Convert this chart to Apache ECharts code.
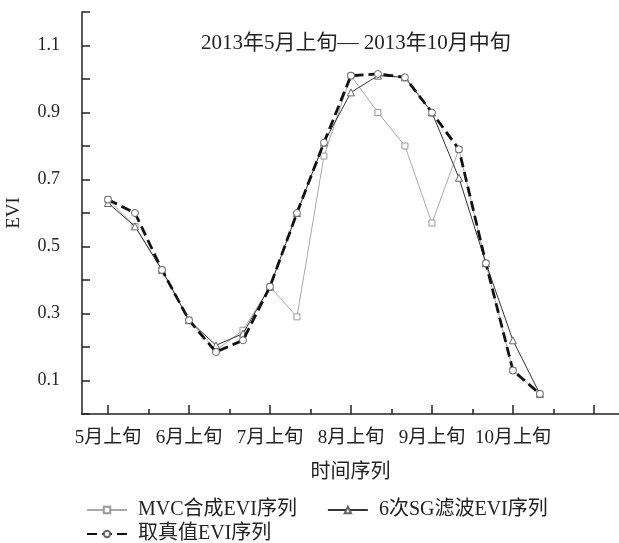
<!DOCTYPE html>
<html>
<head>
<meta charset="utf-8">
<script src="https://cdn.jsdelivr.net/npm/echarts@6/dist/echarts.min.js"></script>
<style>
html,body{margin:0;padding:0;background:#fff;}
#evi{width:619px;height:543px;}
</style>
</head>
<body>
<div id="evi"></div>
<script>
// 时间序列（旬）
var dekads = ['5月上旬','5月中旬','5月下旬','6月上旬','6月中旬','6月下旬','7月上旬','7月中旬','7月下旬',
  '8月上旬','8月中旬','8月下旬','9月上旬','9月中旬','9月下旬','10月上旬','10月中旬'];
var mvcEvi  = [0.64, 0.56, 0.43, 0.28, 0.19, 0.25, 0.38, 0.29, 0.77, 1.01, 0.90, 0.80, 0.57, 0.79, 0.45, 0.13, 0.06];
var sgEvi   = [0.63, 0.56, 0.43, 0.28, 0.205, 0.24, 0.38, 0.60, 0.81, 0.96, 1.01, 1.005, 0.90, 0.705, 0.45, 0.22, 0.06];
var trueEvi = [0.64, 0.60, 0.43, 0.28, 0.185, 0.22, 0.38, 0.60, 0.81, 1.01, 1.015, 1.005, 0.90, 0.79, 0.45, 0.13, 0.06];
var xMajorTicks = [0, 3, 6, 9, 12, 15, 18];
var xMinorTicks = [1.5, 4.5, 7.5, 10.5, 13.5, 16.5];
var xTickLabels = ['5月上旬','6月上旬','7月上旬','8月上旬','9月上旬','10月上旬'];
var yTickLabels = [0.1, 0.3, 0.5, 0.7, 0.9, 1.1];

var font = '"Liberation Serif", "Noto Sans CJK SC", serif';

function pairs(arr) {
  return arr.map(function (v, i) { return [i, v]; });
}

var chart = echarts.init(document.getElementById('evi'));

var legendText = { fontFamily: font, fontSize: 20, color: '#222', padding: [0, 0, 0, 6] };

var option = {
  backgroundColor: '#fff',
  animation: false,
  textStyle: { fontFamily: font, color: '#222' },
  title: {
    text: '2013年5月上旬— 2013年10月中旬',
    left: 196,
    top: 28,
    textStyle: { fontFamily: font, fontSize: 21, fontWeight: 'normal', color: '#222' }
  },
  legend: [
    {
      left: 86,
      top: 500,
      padding: 0,
      itemWidth: 40,
      itemHeight: 8,
      itemGap: 30,
      textStyle: legendText,
      data: ['MVC合成EVI序列', '6次SG滤波EVI序列']
    },
    {
      left: 86,
      top: 524,
      padding: 0,
      itemWidth: 40,
      itemHeight: 8,
      textStyle: legendText,
      data: ['取真值EVI序列']
    }
  ],
  grid: { left: 82, right: 0, top: 12, bottom: 129, outerBoundsMode: 'none' },
  xAxis: [
    {
      type: 'value',
      min: -0.963,
      max: 18.93,
      name: '时间序列',
      nameLocation: 'middle',
      nameGap: 49,
      nameTextStyle: { fontFamily: font, fontSize: 20, color: '#222' },
      splitLine: { show: false },
      axisLine: { onZero: false, lineStyle: { color: '#222', width: 1.5 } },
      axisTick: { inside: true, length: 9, customValues: xMajorTicks, lineStyle: { color: '#222', width: 1.5 } },
      axisLabel: {
        customValues: [0, 3, 6, 9, 12, 15],
        margin: 15,
        fontFamily: font,
        fontSize: 19,
        color: '#222',
        formatter: function (v) { return xTickLabels[Math.round(v / 3)]; }
      }
    },
    {
      type: 'value',
      min: -0.963,
      max: 18.93,
      position: 'bottom',
      splitLine: { show: false },
      axisLine: { show: false, onZero: false },
      axisTick: { inside: true, length: 5, customValues: xMinorTicks, lineStyle: { color: '#222', width: 1.5 } },
      axisLabel: { show: false }
    }
  ],
  yAxis: {
    type: 'value',
    min: 0,
    max: 1.2,
    interval: 0.1,
    name: 'EVI',
    nameLocation: 'middle',
    nameGap: 58,
    nameTextStyle: { fontFamily: font, fontSize: 19, color: '#222' },
    splitLine: { show: false },
    axisLine: { onZero: false, lineStyle: { color: '#222', width: 1.5 } },
    axisTick: { inside: true, length: 8, lineStyle: { color: '#222', width: 1.5 } },
    axisLabel: {
      customValues: yTickLabels,
      margin: 22,
      fontFamily: font,
      fontSize: 18,
      color: '#222',
      formatter: function (v) { return v.toFixed(1); }
    }
  },
  series: [
    {
      name: 'MVC合成EVI序列',
      type: 'line',
      data: pairs(mvcEvi),
      symbol: 'rect',
      symbolSize: 6,
      lineStyle: { color: '#aaa', width: 1 },
      itemStyle: { color: '#fff', borderColor: '#999', borderWidth: 1 },
      z: 2
    },
    {
      name: '6次SG滤波EVI序列',
      type: 'line',
      data: pairs(sgEvi),
      symbol: 'triangle',
      symbolSize: 7,
      lineStyle: { color: '#333', width: 1 },
      itemStyle: { color: '#fff', borderColor: '#666', borderWidth: 1 },
      z: 3
    },
    {
      name: '取真值EVI序列',
      type: 'line',
      data: pairs(trueEvi),
      symbol: 'circle',
      symbolSize: 7,
      lineStyle: { color: '#111', width: 2.8, type: [10, 5] },
      itemStyle: { color: '#fff', borderColor: '#666', borderWidth: 1 },
      z: 4
    }
  ]
};

chart.setOption(option);
</script>
</body>
</html>
